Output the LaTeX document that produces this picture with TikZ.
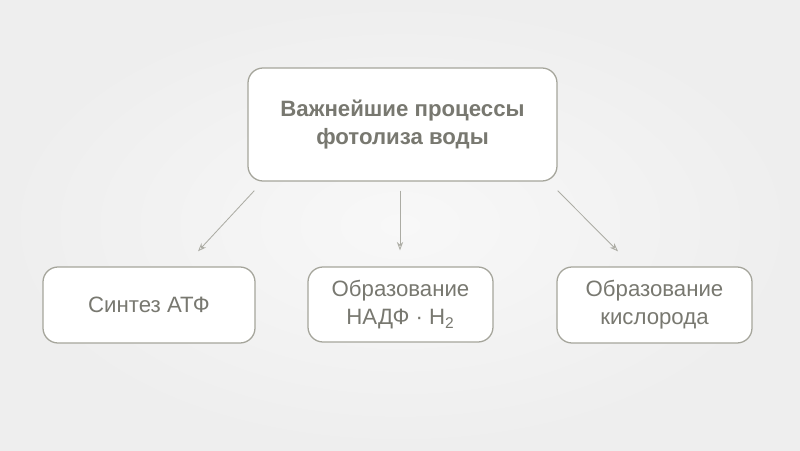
\documentclass[tikz,border=0pt]{standalone}
\usepackage{fontspec}
\setmainfont{Liberation Sans}
\usepackage{tikz}
\usetikzlibrary{calc, arrows.meta}

\definecolor{txtgray}{RGB}{120,120,112}
\definecolor{boxgray}{RGB}{165,165,155}
\definecolor{arrgray}{RGB}{172,172,164}

\begin{document}
\begin{tikzpicture}
    [
      box/.style={draw=boxgray, line width=0.9pt, fill=white, rounded corners=0.375cm,
        text=txtgray, align=center, inner sep=0pt},
      link/.style={draw=arrgray, line width=0.6pt, -{Stealth[open, length=6pt, width=4.5pt]}}
    ]
    % background
    \shade[inner color={rgb,255:red,248;green,248;blue,248}, outer color={rgb,255:red,238;green,238;blue,238}]
      (0,0) rectangle (20,11.25);
    \useasboundingbox (0,0) rectangle (20,11.25);
    % main box
    \node [box, minimum width=7.725cm, minimum height=2.825cm,
      font=\fontsize{15.8}{20.5}\selectfont\bfseries] (top) at (10.0625,8.1375)
      {Важнейшие процессы\\фотолиза воды};
    % processes
    \node [box, minimum width=5.3cm, minimum height=1.9cm,
      font=\fontsize{15.8}{20}\selectfont] (atp) at (3.725,3.625) {Синтез АТФ};
    \node [box, minimum width=4.625cm, minimum height=1.875cm,
      font=\fontsize{15.8}{20}\selectfont] (nadp) at (10.0125,3.6375)
      {Образование\\НАДФ · Н\textsubscript{2}};
    \node [box, minimum width=4.875cm, minimum height=1.9cm,
      font=\fontsize{15.8}{20}\selectfont] (oxy) at (16.3625,3.625)
      {Образование\\кислорода};
    % arrows
    \draw [link] ([shift={(0.175,-0.225)}]top.south west) -- ([shift={(1.225,0.375)}]atp.north);
    \draw [link] ([shift={(-0.0625,-0.225)}]top.south) -- ([shift={(-0.0125,0.4)}]nadp.north);
    \draw [link] ([shift={(0,-0.225)}]top.south east) -- ([shift={(-0.9125,0.375)}]oxy.north);
\end{tikzpicture}
\end{document}
